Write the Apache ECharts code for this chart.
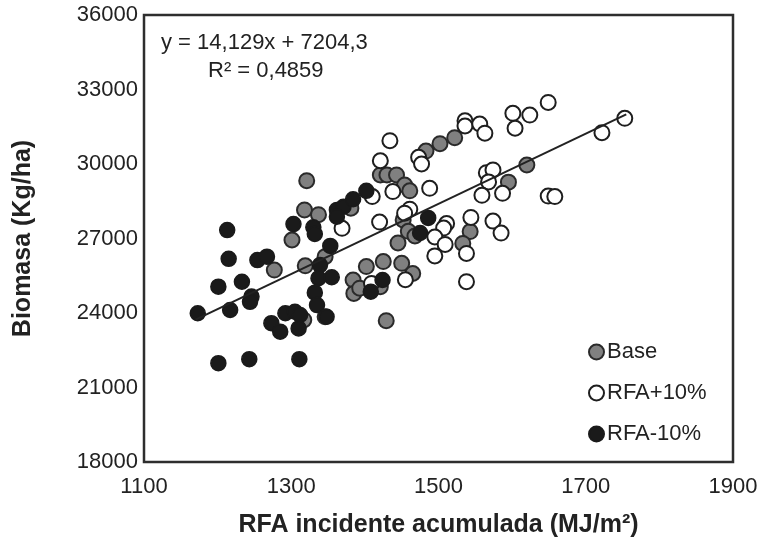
<!DOCTYPE html>
<html>
<head>
<meta charset="utf-8">
<script src="https://cdn.jsdelivr.net/npm/echarts@6/dist/echarts.min.js"></script>
<style>
html,body{margin:0;padding:0;background:#fff;}
#chart{width:765px;height:548px;}
</style>
</head>
<body>
<div id="chart"></div>
<script>
// ---- data ----
var seriesNames = ['Base', 'RFA+10%', 'RFA-10%'];

var baseData = [
  [1321, 29330], [1318, 28150], [1337, 27960], [1301, 26940], [1277, 25730],
  [1319, 25900], [1346, 26270], [1381, 28220], [1384, 25330], [1385, 24790],
  [1317, 23720], [1346, 23850], [1483, 30520], [1502, 30820], [1522, 31060],
  [1421, 29560], [1430, 29560], [1443, 29560], [1454, 29150], [1461, 28920],
  [1452, 27750], [1459, 27290], [1445, 26820], [1468, 27100], [1543, 27280],
  [1533, 26800], [1402, 25870], [1393, 25000], [1421, 25060], [1425, 26070],
  [1450, 26000], [1465, 25590], [1429, 23690], [1620, 29960], [1595, 29270]
];

var plusData = [
  [1434, 30940], [1536, 31740], [1536, 31530], [1556, 31610], [1563, 31240],
  [1421, 30130], [1473, 30270], [1477, 30000], [1438, 28890], [1488, 29020],
  [1410, 28690], [1369, 27410], [1420, 27660], [1461, 28180], [1454, 28020],
  [1565, 29650], [1574, 29760], [1568, 29280], [1559, 28740], [1574, 27700],
  [1544, 27850], [1511, 27600], [1507, 27420], [1495, 27060], [1509, 26760],
  [1495, 26300], [1538, 26400], [1585, 27220], [1538, 25260], [1455, 25340],
  [1409, 25190], [1649, 32480], [1601, 32040], [1624, 31970], [1604, 31440],
  [1753, 31840], [1722, 31260], [1587, 28820], [1649, 28710], [1658, 28690]
];

var minusData = [
  [1173, 23990], [1213, 27340], [1215, 26180], [1254, 26130], [1267, 26270],
  [1201, 25060], [1233, 25260], [1246, 24660], [1244, 24450], [1217, 24120],
  [1303, 27580], [1330, 27450], [1332, 27180], [1362, 28150], [1371, 28280],
  [1384, 28580], [1362, 27880], [1402, 28920], [1353, 26700], [1339, 25930],
  [1337, 25400], [1355, 25440], [1332, 24820], [1335, 24320], [1348, 23850],
  [1292, 23990], [1305, 24050], [1312, 23920], [1273, 23590], [1285, 23250],
  [1310, 23380], [1201, 21980], [1243, 22140], [1311, 22140], [1486, 27830],
  [1475, 27220], [1424, 25330], [1408, 24860]
];

// trend line y = slope*x + intercept
var slope = 14.129;
var intercept = 7204.3;
var trendX = [1170, 1755];

var xTicks = [1100, 1300, 1500, 1700, 1900];
var yTicks = [18000, 21000, 24000, 27000, 30000, 33000, 36000];

var eqText = 'y = 14,129x + 7204,3';
var r2Text = 'R² = 0,4859';
var xTitle = 'RFA incidente acumulada (MJ/m²)';
var yTitle = 'Biomasa (Kg/ha)';

// ---- chart ----
var trendData = trendX.map(function (x) { return [x, slope * x + intercept]; });
var FONT = '"Liberation Sans", Arial, sans-serif';

var chart = echarts.init(document.getElementById('chart'), null, {renderer: 'canvas'});
chart.setOption({
  animation: false,
  backgroundColor: '#fff',
  textStyle: {fontFamily: FONT},
  grid: {
    left: 144, right: 32, top: 15, bottom: 86,
    show: true, borderColor: '#2e2e2e', borderWidth: 2.5, backgroundColor: 'transparent'
  },
  xAxis: {
    type: 'value',
    min: xTicks[0], max: xTicks[xTicks.length - 1], interval: 100,
    axisLine: {show: false},
    axisTick: {show: false},
    splitLine: {show: false},
    axisLabel: {
      color: '#222', fontSize: 22, fontFamily: FONT, margin: 14,
      formatter: function (v) { return xTicks.indexOf(v) >= 0 ? String(v) : ''; }
    },
    name: xTitle, nameLocation: 'middle', nameGap: 51,
    nameTextStyle: {fontSize: 25, fontWeight: 'bold', color: '#222', fontFamily: FONT}
  },
  yAxis: {
    type: 'value',
    min: yTicks[0], max: yTicks[yTicks.length - 1], interval: yTicks[1] - yTicks[0],
    axisLine: {show: false},
    axisTick: {show: false},
    splitLine: {show: false},
    axisLabel: {
      color: '#222', fontSize: 22, fontFamily: FONT, margin: 6,
      formatter: function (v) { return String(v); }
    },
    name: yTitle, nameLocation: 'middle', nameGap: 108,
    nameTextStyle: {fontSize: 25, fontWeight: 'bold', color: '#222', fontFamily: FONT}
  },
  legend: {
    orient: 'vertical', left: 583, top: 336,
    itemWidth: 15, itemHeight: 15, itemGap: 19,
    icon: 'circle',
    data: seriesNames,
    textStyle: {fontSize: 22, color: '#222', fontFamily: FONT, lineHeight: 22, padding: [0, 0, 0, -2]}
  },
  graphic: [
    {type: 'text', left: 161, top: 32, style: {text: eqText, font: '22px ' + FONT, fill: '#222'}},
    {type: 'text', left: 208, top: 60, style: {text: r2Text, font: '22px ' + FONT, fill: '#222'}}
  ],
  series: [
    {
      name: seriesNames[0], type: 'scatter', data: baseData, symbolSize: 15,
      itemStyle: {color: '#808080', borderColor: '#2a2a2a', borderWidth: 2, opacity: 1}
    },
    {
      name: seriesNames[1], type: 'scatter', data: plusData, symbolSize: 15,
      itemStyle: {color: '#ffffff', borderColor: '#1e1e1e', borderWidth: 2, opacity: 1}
    },
    {
      name: seriesNames[2], type: 'scatter', data: minusData, symbolSize: 15,
      itemStyle: {color: '#1a1a1a', borderColor: '#1a1a1a', borderWidth: 1.5, opacity: 1}
    },
    {
      name: 'trend', type: 'line', data: trendData, showSymbol: false, symbol: 'none',
      lineStyle: {color: '#222', width: 2}, z: 5, silent: true
    }
  ]
});
</script>
</body>
</html>
